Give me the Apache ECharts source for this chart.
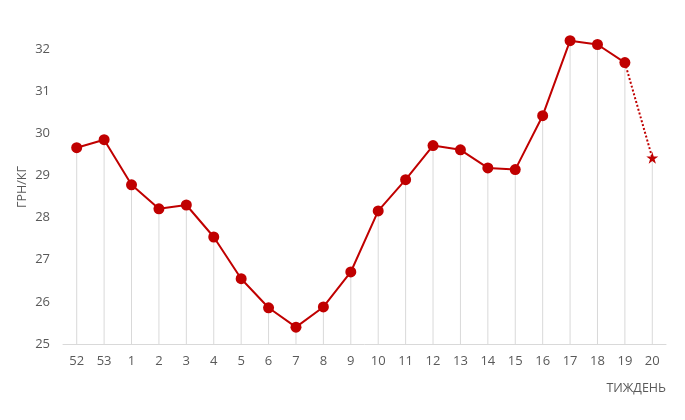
<!DOCTYPE html>
<html><head><meta charset="utf-8">
<script src="https://cdn.jsdelivr.net/npm/echarts@6/dist/echarts.min.js"></script>
<style>html,body{margin:0;padding:0;background:#fff}#c{width:685px;height:420px}</style>
</head><body><div id="c"></div>
<script>
const weeks = ['52','53','1','2','3','4','5','6','7','8','9','10','11','12','13','14','15','16','17','18','19','20'];
const prices = [29.66,29.85,28.78,28.21,28.30,27.54,26.55,25.86,25.40,25.88,26.71,28.16,28.90,29.71,29.61,29.18,29.14,30.42,32.20,32.11,31.68,29.42];
const forecastFrom = 20; // index of last actual point
const yTicks = {min:25, max:33, step:1};
const yName = 'ГРН/КГ';
const xName = 'ТИЖДЕНЬ';

const actual = prices.map((v,i)=> i<=forecastFrom ? v : null);
const forecast = prices.map((v,i)=> i>=forecastFrom ? v : null);
const RED = '#c00000';
const FONT = '"Open Sans", "Noto Sans", sans-serif';
const star = 'path://M50,0 L61,35 L98,35 L68,57 L79,91 L50,70 L21,91 L32,57 L2,35 L39,35 Z';

const chart = echarts.init(document.getElementById('c'), null, {renderer:'canvas'});
chart.setOption({
  animation:false,
  grid:{left:63, right:19, top:7, bottom:76},
  graphic:[{type:'text', x:22, y:187, rotation:Math.PI/2,
    style:{text:yName, fill:'#595959', fontSize:12.5, fontFamily:FONT, align:'center', verticalAlign:'middle'}}],
  xAxis:{
    type:'category', data:weeks, boundaryGap:true,
    axisLine:{lineStyle:{color:'#d9d9d9'}},
    axisTick:{show:false},
    axisLabel:{color:'#595959', fontSize:13, fontFamily:FONT, margin:11, interval:0},
    name:xName, nameLocation:'end', nameGap:0,
    nameTextStyle:{color:'#595959', fontSize:12.5, fontFamily:FONT, align:'right', verticalAlign:'top', padding:[38,0,0,0]}
  },
  yAxis:{
    type:'value', min:yTicks.min, max:yTicks.max, interval:yTicks.step,
    splitLine:{show:false}, axisLine:{show:false}, axisTick:{show:false},
    axisLabel:{color:'#595959', fontSize:13, fontFamily:FONT, margin:13, showMaxLabel:false}
  },
  series:[
    {type:'bar', data:prices, barWidth:1, itemStyle:{color:'#d9d9d9'}, silent:true, z:1},
    {type:'line', data:actual, symbol:'circle', symbolSize:11, connectNulls:false,
     lineStyle:{color:RED, width:2}, itemStyle:{color:RED}, z:3},
    {type:'line', data:forecast,
     symbol:(v,p)=> p.dataIndex===prices.length-1 ? star : 'none', symbolSize:12,
     lineStyle:{color:RED, width:2, type:[2,2]}, itemStyle:{color:RED}, z:2}
  ]
});
</script></body></html>
